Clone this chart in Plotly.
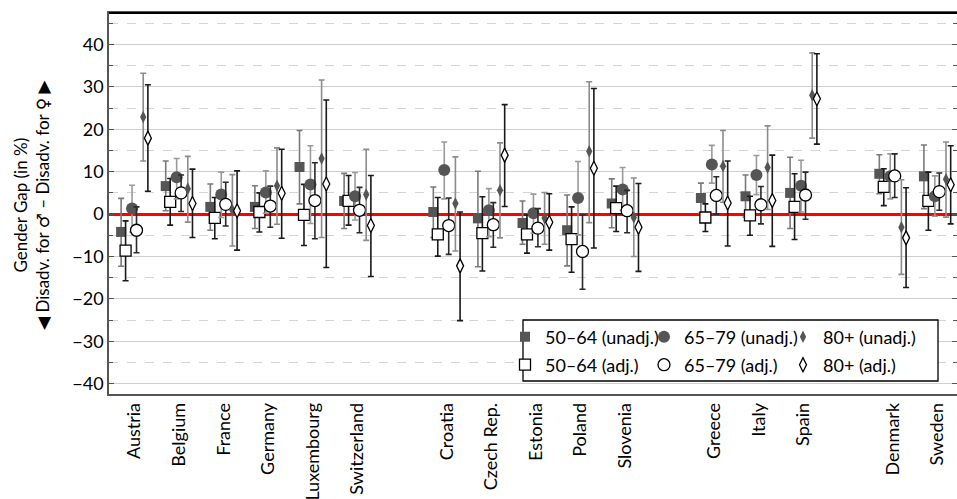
import plotly.graph_objects as go

# Country groups (a blank slot separates each group on the axis)
groups = [
    ["Austria", "Belgium", "France", "Germany", "Luxembourg", "Switzerland"],
    ["Croatia", "Czech Rep.", "Estonia", "Poland", "Slovenia"],
    ["Greece", "Italy", "Spain"],
    ["Denmark", "Sweden"],
]

# Gender gap estimates (in %) with lower / upper confidence bounds, per country
gap_50_64_unadj = [-4.2, 6.6, 1.7, 1.7, 11.1, 3.1, 0.5, -1.0, -2.1, -3.8, 2.5, 3.8, 4.2, 5.0, 9.5, 8.9]
lo_50_64_unadj = [-12.3, 0.8, -3.8, -3.4, 2.4, -3.4, -5.5, -12.4, -7.1, -12.2, -3.2, 0.2, -0.7, -3.4, 4.8, 1.3]
hi_50_64_unadj = [3.7, 12.5, 7.1, 6.7, 19.7, 9.6, 6.4, 10.1, 3.1, 4.5, 8.3, 7.3, 9.2, 13.4, 14.0, 16.3]

gap_50_64_adj = [-8.6, 2.9, -0.9, 0.5, -0.2, 3.1, -4.8, -4.5, -4.8, -5.9, 1.4, -0.8, -0.3, 1.7, 6.4, 3.1]
lo_50_64_adj = [-15.7, -2.6, -5.8, -4.2, -7.4, -2.6, -9.9, -13.4, -9.2, -13.7, -4.1, -4.1, -5.0, -6.0, 2.0, -3.8]
hi_50_64_adj = [-1.6, 8.4, 3.9, 5.0, 7.0, 9.1, 3.9, 4.1, -0.2, 1.7, 6.6, 2.4, 4.2, 9.5, 10.7, 9.9]

gap_65_79_unadj = [1.3, 8.7, 4.6, 5.1, 7.0, 4.2, 10.4, 0.9, 0.2, 3.8, 5.8, 11.7, 9.2, 6.7, 8.9, 4.2]
lo_65_79_unadj = [-4.2, 3.6, -0.8, 0.2, -2.2, -1.4, 3.6, -5.3, -4.5, -4.9, 0.9, 7.3, 4.6, 0.5, 3.6, -0.5]
hi_65_79_unadj = [6.8, 13.1, 9.9, 10.2, 16.1, 9.8, 17.0, 6.0, 4.7, 12.4, 11.0, 16.2, 13.8, 12.7, 14.2, 9.0]

gap_65_79_adj = [-3.8, 5.0, 2.3, 1.9, 3.2, 0.9, -2.7, -2.5, -3.3, -8.8, 0.8, 4.4, 2.2, 4.5, 9.0, 5.3]
lo_65_79_adj = [-9.1, 0.6, -2.8, -3.1, -5.8, -4.4, -9.5, -7.8, -7.7, -17.7, -4.4, 0.0, -2.3, -1.2, 3.9, 0.9]
hi_65_79_adj = [1.7, 9.2, 7.5, 6.6, 12.1, 6.3, 3.8, 2.7, 1.3, -0.2, 5.6, 8.8, 6.5, 9.9, 14.2, 9.7]

gap_80_unadj = [22.9, 6.0, 0.9, 6.7, 13.1, 4.6, 2.5, 5.6, -0.9, 14.8, -0.8, 11.3, 11.0, 28.0, -3.1, 8.2]
lo_80_unadj = [12.5, -1.9, -7.5, -2.4, -5.5, -6.2, -8.7, -5.6, -7.1, -2.0, -10.0, 2.8, 1.1, 17.9, -14.2, -0.7]
hi_80_unadj = [33.2, 13.6, 9.3, 15.6, 31.6, 15.3, 13.5, 16.8, 5.1, 31.2, 8.5, 19.7, 20.8, 38.0, 8.1, 17.0]

gap_80_adj = [17.9, 2.5, 0.8, 4.9, 7.1, -2.7, -12.2, 13.9, -1.9, 10.8, -3.1, 2.6, 3.2, 27.2, -5.6, 6.9]
lo_80_adj = [5.4, -5.5, -8.5, -5.7, -12.6, -14.7, -25.1, 1.8, -8.5, -8.0, -13.5, -7.5, -7.6, 16.5, -17.3, -2.3]
hi_80_adj = [30.5, 10.6, 10.2, 15.3, 26.9, 9.1, 0.5, 25.8, 4.8, 29.6, 7.2, 12.5, 13.9, 37.8, 6.2, 16.1]

# Slot positions along the x axis: one per country, one empty slot between groups
countries, slots = [], []
pos = 0
for g in groups:
    for c in g:
        countries.append(c)
        slots.append(pos)
        pos += 1
    pos += 1

FONT = "Lato"
DARK = "#555555"

series = [
    # name, values, lo, hi, symbol, size, fill, outline, error colour, offset, legend
    ("50\u201364 (unadj.)", gap_50_64_unadj, lo_50_64_unadj, hi_50_64_unadj,
     "square", 10, DARK, DARK, "#7a7a7a", -0.30, "legend"),
    ("50\u201364 (adj.)", gap_50_64_adj, lo_50_64_adj, hi_50_64_adj,
     "square", 11, "white", "black", "#1a1a1a", -0.20, "legend2"),
    ("65\u201379 (unadj.)", gap_65_79_unadj, lo_65_79_unadj, hi_65_79_unadj,
     "circle", 12, DARK, DARK, "#9a9a9a", -0.055, "legend"),
    ("65\u201379 (adj.)", gap_65_79_adj, lo_65_79_adj, hi_65_79_adj,
     "circle", 12, "white", "black", "#2a2a2a", 0.045, "legend2"),
    ("80+ (unadj.)", gap_80_unadj, lo_80_unadj, hi_80_unadj,
     "diamond-tall", 9, DARK, DARK, "#8c8c8c", 0.195, "legend"),
    ("80+ (adj.)", gap_80_adj, lo_80_adj, hi_80_adj,
     "diamond-tall", 10, "white", "black", "#1a1a1a", 0.30, "legend2"),
]

fig = go.Figure()
for name, vals, lo, hi, sym, size, fill, line, ecol, off, leg in series:
    fig.add_trace(go.Scatter(
        x=[s + off for s in slots],
        y=vals,
        mode="markers",
        name=name,
        legend=leg,
        marker=dict(symbol=sym, size=size, color=fill,
                    line=dict(color=line, width=1.3 if fill == "white" else 0)),
        error_y=dict(type="data", symmetric=False,
                     array=[h - v for h, v in zip(hi, vals)],
                     arrayminus=[v - l for v, l in zip(vals, lo)],
                     color=ecol, thickness=1.6, width=3),
        hoverinfo="x+y",
    ))

# Plot area geometry (pixels)
W, H = 957, 499
ML, MR, MT, MB = 109, 0, 13, 105
pw, ph = W - ML - MR, H - MT - MB
px_per_slot = 44.6
x0 = -25.5 / px_per_slot
x1 = x0 + pw / px_per_slot


def xp(px):
    return (px - ML) / pw


def yp(py):
    return (H - MB - py) / ph


def sym(ch):
    return f'<span style="font-family:DejaVu Sans">{ch}</span>'


ytitle = ("Gender Gap (in %)<br>"
          f"{sym(chr(0x25C0))} Disadv. for {sym(chr(0x2642))} \u2013 "
          f"Disadv. for {sym(chr(0x2640))} {sym(chr(0x25B6))}")

legend_style = dict(orientation="h", xanchor="left", yanchor="middle",
                    bgcolor="rgba(0,0,0,0)", borderwidth=0, entrywidth=94,
                    font=dict(family=FONT, size=18), tracegroupgap=0)

fig.update_layout(
    width=W, height=H,
    margin=dict(l=ML, r=MR, t=MT, b=MB, pad=0),
    plot_bgcolor="white", paper_bgcolor="white",
    font=dict(family=FONT, size=17, color="black"),
    showlegend=True,
    legend=dict(x=xp(505), y=yp(337), **legend_style),
    legend2=dict(x=xp(505), y=yp(365), **legend_style),
    xaxis=dict(
        range=[x0, x1], tickmode="array", tickvals=slots, ticktext=countries,
        tickangle=-90, showgrid=False, zeroline=False, ticks="",
        showline=True, linecolor="#555555", linewidth=1.5, mirror=True,
        tickfont=dict(family=FONT, size=18), automargin=False,
    ),
    yaxis=dict(
        range=[-42.4, 47.4], tick0=0, dtick=10, ticks="inside", ticklen=5,
        tickcolor="#555555", showgrid=True, gridcolor="#cfcfcf", gridwidth=1.4,
        zeroline=True, zerolinecolor="#ff0000", zerolinewidth=2.6,
        showline=True, linecolor="#555555", linewidth=1.5, mirror="allticks",
        tickfont=dict(family=FONT, size=18), automargin=False,
        minor=dict(dtick=5, ticks="inside", ticklen=4, tickcolor="#555555",
                   showgrid=True, gridcolor="#d4d4d4", griddash="dash", gridwidth=1.2),
    ),
    shapes=[
        dict(type="rect", xref="paper", yref="paper",
             x0=xp(523), x1=xp(938), y0=yp(381), y1=yp(320),
             fillcolor="white", line=dict(color="black", width=1.3), layer="above"),
        dict(type="line", xref="paper", yref="paper", x0=0, x1=1, y0=1, y1=1,
             line=dict(color="black", width=1.8), layer="above"),
    ],
    annotations=[dict(
        text=ytitle,
        xref="paper", yref="paper", x=(31 - ML) / pw, y=yp(205),
        xanchor="center", yanchor="middle", textangle=-90, showarrow=False,
        font=dict(family=FONT, size=17),
    )],
)

fig.write_html("out.html")
